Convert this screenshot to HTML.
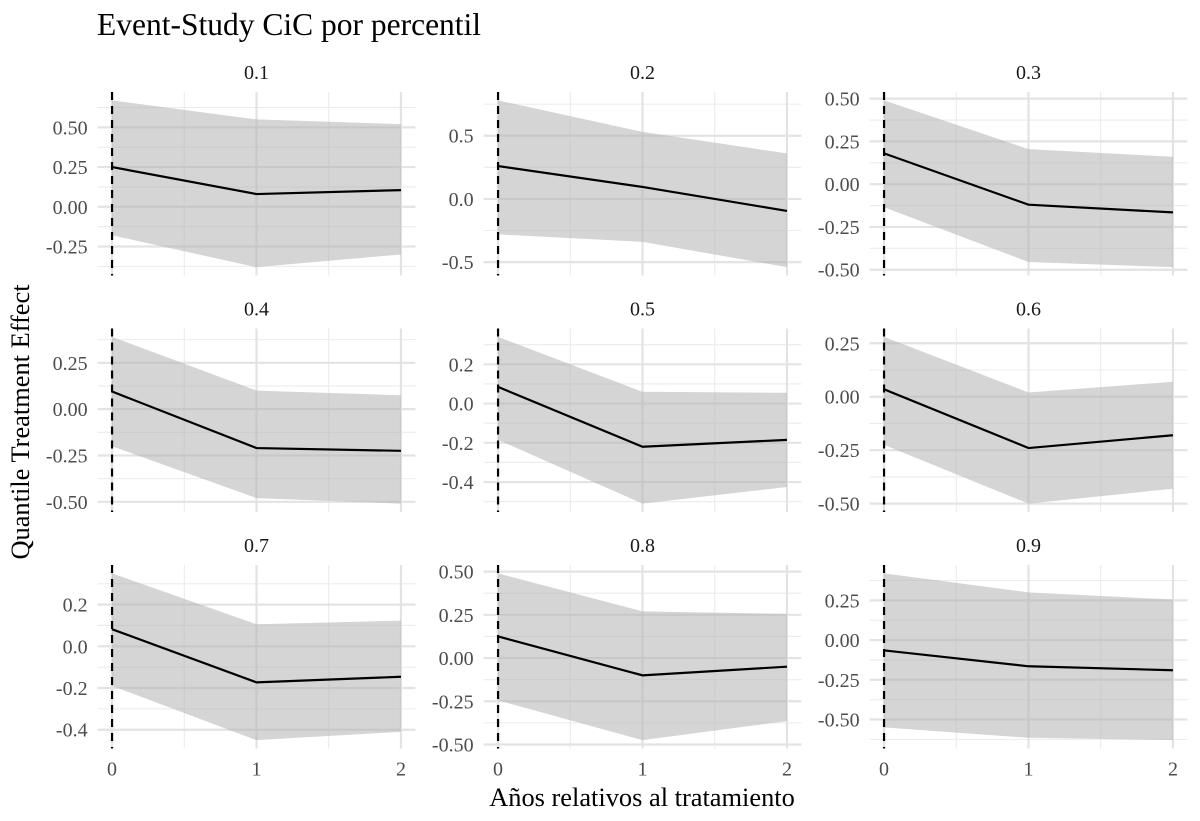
<!DOCTYPE html>
<html><head><meta charset="utf-8">
<style>
body{margin:0;background:#fff;}
svg{display:block;font-family:"Liberation Serif",serif;}
</style></head>
<body>
<svg id="chart" width="1200" height="821" viewBox="0 0 1200 821">
<text x="97" y="35" font-size="31.5" fill="#000">Event-Study CiC por percentil</text>
<text x="642" y="806" font-size="26.4" text-anchor="middle" fill="#000">Años relativos al tratamiento</text>
<text transform="translate(29,422) rotate(-90)" font-size="26.4" text-anchor="middle" fill="#000">Quantile Treatment Effect</text>
<g id="panels"></g>
</svg>
<script>
const periods = [0, 1, 2];
const xTickLabels = ["0", "1", "2"];
const quantiles = ["0.1","0.2","0.3","0.4","0.5","0.6","0.7","0.8","0.9"];
const estimates = [
  [0.25, 0.08, 0.105],
  [0.26, 0.095, -0.095],
  [0.18, -0.12, -0.165],
  [0.095, -0.21, -0.225],
  [0.085, -0.22, -0.185],
  [0.035, -0.24, -0.18],
  [0.082, -0.173, -0.146],
  [0.125, -0.10, -0.05],
  [-0.065, -0.165, -0.19]
];
const lowerCI = [
  [-0.18, -0.38, -0.30],
  [-0.28, -0.34, -0.54],
  [-0.135, -0.455, -0.485],
  [-0.20, -0.48, -0.51],
  [-0.185, -0.51, -0.425],
  [-0.225, -0.50, -0.43],
  [-0.19, -0.45, -0.41],
  [-0.245, -0.475, -0.365],
  [-0.55, -0.615, -0.63]
];
const upperCI = [
  [0.67, 0.55, 0.52],
  [0.78, 0.53, 0.36],
  [0.49, 0.205, 0.16],
  [0.39, 0.10, 0.075],
  [0.34, 0.06, 0.055],
  [0.28, 0.02, 0.07],
  [0.35, 0.106, 0.123],
  [0.49, 0.27, 0.255],
  [0.42, 0.30, 0.255]
];
const yTicks = [
  [-0.25, 0, 0.25, 0.5],
  [-0.5, 0, 0.5],
  [-0.5, -0.25, 0, 0.25, 0.5],
  [-0.5, -0.25, 0, 0.25],
  [-0.4, -0.2, 0, 0.2],
  [-0.5, -0.25, 0, 0.25],
  [-0.4, -0.2, 0, 0.2],
  [-0.5, -0.25, 0, 0.25, 0.5],
  [-0.5, -0.25, 0, 0.25]
];
const yTickLabels = [
  ["-0.25","0.00","0.25","0.50"],
  ["-0.5","0.0","0.5"],
  ["-0.50","-0.25","0.00","0.25","0.50"],
  ["-0.50","-0.25","0.00","0.25"],
  ["-0.4","-0.2","0.0","0.2"],
  ["-0.50","-0.25","0.00","0.25"],
  ["-0.4","-0.2","0.0","0.2"],
  ["-0.50","-0.25","0.00","0.25","0.50"],
  ["-0.50","-0.25","0.00","0.25"]
];

const NS = "http://www.w3.org/2000/svg";
const root = document.getElementById("panels");
function mk(tag, attrs, parent){
  const e = document.createElementNS(NS, tag);
  for (const k in attrs) e.setAttribute(k, attrs[k]);
  parent.appendChild(e);
  return e;
}
const panelW = 317.8, panelH = 183.5;
const colLeft = [97.6, 483.6, 869.6];
const rowTop = [92, 328.5, 565];

quantiles.forEach((q, i) => {
  const r = Math.floor(i / 3), c = i % 3;
  const L = colLeft[c], T = rowTop[r], R = L + panelW, B = T + panelH;
  const g = mk("g", {}, root);
  
  
  const x = v => L + (v - (-0.1)) / 2.2 * panelW;
  let lo = Math.min(...lowerCI[i], ...estimates[i]);
  let hi = Math.max(...upperCI[i], ...estimates[i]);
  const pad = (hi - lo) * 0.05; lo -= pad; hi += pad;
  const y = v => B - (v - lo) / (hi - lo) * panelH;
  const ticks = yTicks[i];
  const step = ticks[1] - ticks[0];
  for (let t = ticks[0] - step / 2; t <= hi + 1e-9; t += step) {
    if (t < lo) continue;
    const ln = mk("line", {x1:L, x2:R, y1:y(t), y2:y(t), stroke:"#ebebeb", "stroke-width":1.1}, g);
    
    
  }
  [0.5, 1.5].forEach(t => {
    const ln = mk("line", {x1:x(t), x2:x(t), y1:T, y2:B, stroke:"#ebebeb", "stroke-width":1.1}, g);
    
    
  });
  ticks.forEach((t, k) => {
    const ln = mk("line", {x1:L, x2:R, y1:y(t), y2:y(t), stroke:"#e3e3e3", "stroke-width":2.2}, g);
    
    
    const tx = mk("text", {x:L - 10, y:y(t) + 7, "font-size":20, fill:"#4d4d4d", "text-anchor":"end"}, g);
    tx.textContent = yTickLabels[i][k];
    
    
  });
  periods.forEach((p, k) => {
    const ln = mk("line", {x1:x(p), x2:x(p), y1:T, y2:B, stroke:"#e3e3e3", "stroke-width":2.2}, g);
    
    
    if (r === 2) {
      const tx = mk("text", {x:x(p), y:B + 27, "font-size":20, fill:"#4d4d4d", "text-anchor":"middle"}, g);
      tx.textContent = xTickLabels[k];
      
      
    }
  });
  let d = periods.map((p, k) => (k ? "L" : "M") + x(p) + "," + y(upperCI[i][k])).join(" ");
  d += " " + periods.slice().reverse().map((p, k) => "L" + x(p) + "," + y(lowerCI[i][periods.length - 1 - k])).join(" ") + " Z";
  const rib = mk("path", {d:d, fill:"#b3b3b3", "fill-opacity":0.55}, g);
  
  
  const pts = periods.map((p, k) => x(p) + "," + y(estimates[i][k])).join(" ");
  const pl = mk("polyline", {points:pts, fill:"none", stroke:"#000", "stroke-width":2.2}, g);
  
  
  const vl = mk("line", {x1:x(0), x2:x(0), y1:T, y2:B, stroke:"#000", "stroke-width":2.2, "stroke-dasharray":"8,6"}, g);
  
  
  const st = mk("text", {x:(L + R) / 2, y:T - 13, "font-size":20, fill:"#1a1a1a", "text-anchor":"middle"}, g);
  st.textContent = q;
  
  
});
</script>
</body></html>
